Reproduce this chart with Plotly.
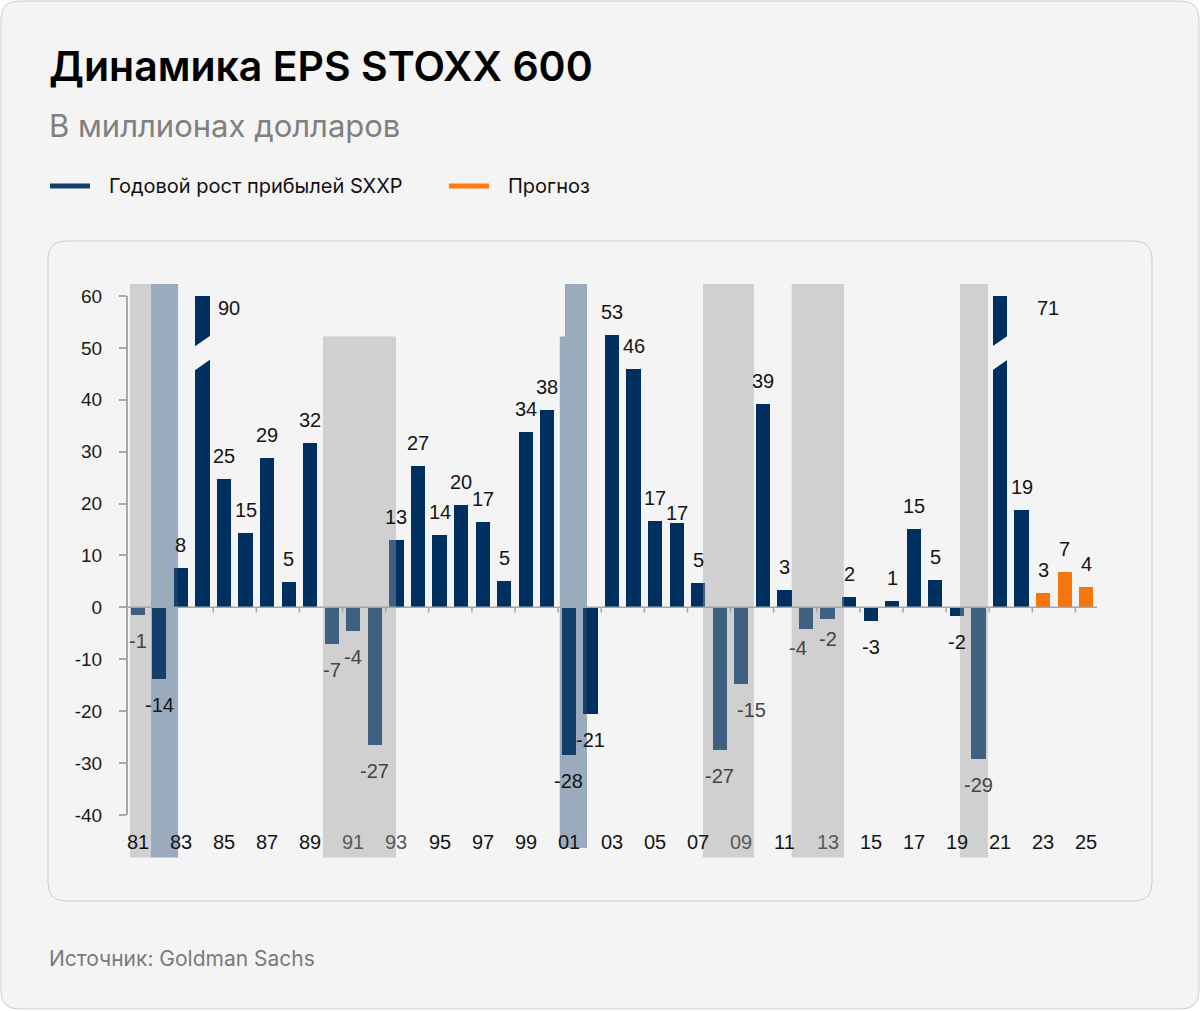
import plotly.graph_objects as go

# ---------------- data ----------------
years = list(range(1981, 2026))
eps_growth = [-1.5, -13.9, 7.5, 90, 24.7, 14.3, 28.8, 4.8, 31.7, -7.1,
              -4.6, -26.6, 13.0, 27.2, 13.9, 19.8, 16.4, 5.1, 33.7, 38.0,
              -28.4, -20.6, 52.4, 46.0, 16.6, 16.3, 4.7, -27.4, -14.7, 39.2,
              3.3, -4.1, -2.2, 2.0, -2.6, 1.2, 15.0, 5.2, -1.7, -29.3,
              71, 18.7, 2.8, 6.8, 3.9]
value_labels = ["-1", "-14", "8", "90", "25", "15", "29", "5", "32", "-7",
                "-4", "-27", "13", "27", "14", "20", "17", "5", "34", "38",
                "-28", "-21", "53", "46", "17", "17", "5", "-27", "-15", "39",
                "3", "-4", "-2", "2", "-3", "1", "15", "5", "-2", "-29",
                "71", "19", "3", "7", "4"]
forecast_years = [2023, 2024, 2025]
year_ticks = list(range(1981, 2026, 2))
year_tick_labels = ["81", "83", "85", "87", "89", "91", "93", "95", "97", "99",
                    "01", "03", "05", "07", "09", "11", "13", "15", "17", "19",
                    "21", "23", "25"]
y_ticks = [-40, -30, -20, -10, 0, 10, 20, 30, 40, 50, 60]
y_tick_labels = ["-40", "-30", "-20", "-10", "0", "10", "20", "30", "40", "50", "60"]
axis_cap = 60
# shaded periods: (start, end, top, bottom)
shade_light = [(1980.64, 1981.61, 62.3, -48.2), (1989.59, 1992.98, 52.2, -48.2),
               (2007.22, 2009.58, 62.3, -48.2), (2011.34, 2013.76, 62.3, -48.2),
               (2019.14, 2020.44, 62.3, -48.2)]
shade_blue = [(1981.61, 1982.87, 62.3, -48.2), (2000.58, 2000.82, 52.2, -46.4),
              (2000.82, 2001.84, 62.3, -46.4)]
muted_year_labels = ["91", "93", "09", "13"]

# ---------------- style ----------------
NAVY = "#00305f"
ORANGE = "#f7760c"
LIGHT = "#d0d0d0"
BLUEGREY = "#9aabbd"
AXIS = "#a6a6a6"
BG = "#f4f4f4"
NUMFONT = "Arial, Liberation Sans, sans-serif"
UIFONT = "Inter, Roboto, sans-serif"

W, H = 1200, 1011
L, R, T, B = 127, 103, 283, 152
PW, PH = W - L - R, H - T - B
BAR_W = 0.66


def px(x):
    return (x - L) / PW


def py(y):
    return (H - B - y) / PH


def rounded_path(x0, y0, x1, y1, r):
    pts = [
        ("M", [(x0 + r, y0)]), ("L", [(x1 - r, y0)]), ("Q", [(x1, y0), (x1, y0 + r)]),
        ("L", [(x1, y1 - r)]), ("Q", [(x1, y1), (x1 - r, y1)]), ("L", [(x0 + r, y1)]),
        ("Q", [(x0, y1), (x0, y1 - r)]), ("L", [(x0, y0 + r)]), ("Q", [(x0, y0), (x0 + r, y0)]),
    ]
    s = ""
    for cmd, ps in pts:
        s += cmd + " " + " ".join(f"{px(a):.5f},{py(b):.5f}" for a, b in ps) + " "
    return s + "Z"


plot_vals = [min(v, axis_cap) for v in eps_growth]
colors = [ORANGE if y in forecast_years else NAVY for y in years]

fig = go.Figure()
fig.add_trace(go.Bar(x=years, y=plot_vals, width=BAR_W, marker=dict(color=colors, line=dict(width=0)),
                     showlegend=False, hoverinfo="skip"))

shapes = []
# card and inner frame
shapes.append(dict(type="path", xref="paper", yref="paper", layer="below",
                   path=rounded_path(1, 1, 1199, 1009, 18), fillcolor=BG,
                   line=dict(color="#cfcfcf", width=1)))
shapes.append(dict(type="path", xref="paper", yref="paper", layer="below",
                   path=rounded_path(48, 241, 1152, 901, 18), fillcolor=BG,
                   line=dict(color="#cccccc", width=1)))
# shading below
for (a, b, top, bot) in shade_light:
    shapes.append(dict(type="rect", xref="x", yref="y", x0=a, x1=b, y0=bot, y1=top,
                       fillcolor=LIGHT, line=dict(width=0), layer="below"))
for (a, b, top, bot) in shade_blue:
    shapes.append(dict(type="rect", xref="x", yref="y", x0=a, x1=b, y0=bot, y1=top,
                       fillcolor=BLUEGREY, line=dict(width=0), layer="below"))
# break bands on capped bars
for yr, v in zip(years, eps_growth):
    if v > axis_cap:
        xl, xr = yr - BAR_W / 2 - 0.05, yr + BAR_W / 2 + 0.05
        shapes.append(dict(type="path", xref="x", yref="y", layer="above",
                           path=f"M {xl},45.6 L {xr},47.8 L {xr},52.4 L {xl},50.2 Z",
                           fillcolor=BG, line=dict(width=0)))
# overlays that mute bars inside shaded periods
for (a, b, top, bot) in shade_light:
    shapes.append(dict(type="rect", xref="x", yref="y", x0=a, x1=b, y0=bot, y1=top,
                       fillcolor=LIGHT, opacity=0.3, line=dict(width=0), layer="above"))
for (a, b, top, bot) in shade_blue:
    shapes.append(dict(type="rect", xref="x", yref="y", x0=a, x1=b, y0=bot, y1=top,
                       fillcolor=BLUEGREY, opacity=0.12, line=dict(width=0), layer="above"))
# zero line, x ticks, y axis line
shapes.append(dict(type="line", xref="paper", yref="y", x0=0, x1=1, y0=0, y1=0,
                   line=dict(color=AXIS, width=1.5), layer="above"))
for k in range(len(year_ticks) - 1):
    xt = year_ticks[k] + 1.5
    shapes.append(dict(type="line", xref="x", yref="y", x0=xt, x1=xt, y0=0, y1=-1.0,
                       line=dict(color=AXIS, width=1.5), layer="above"))
shapes.append(dict(type="line", xref="paper", yref="y", x0=0, x1=0, y0=min(y_ticks), y1=max(y_ticks),
                   line=dict(color=AXIS, width=2), layer="above"))
# legend markers
shapes.append(dict(type="line", xref="paper", yref="paper", x0=px(50), x1=px(90), y0=py(186), y1=py(186),
                   line=dict(color="#143d6b", width=5)))
shapes.append(dict(type="line", xref="paper", yref="paper", x0=px(449), x1=px(489), y0=py(186), y1=py(186),
                   line=dict(color="#ff7a12", width=5)))

ann = []
# value labels
special = {1984: (27, -12), 2021: (48, -12), 2006: (0, 10), 2009: (10, -26),
           2012: (-8, -19), 2013: (0, -20)}


def in_light(x):
    return any(a <= x <= b for (a, b, _, _) in shade_light)


for yr, v, lab in zip(years, eps_growth, value_labels):
    yv = min(v, axis_cap)
    dx, dy = special.get(yr, (0, 23 if v >= 0 else -26))
    ann.append(dict(x=yr, y=yv, xref="x", yref="y", text=lab, showarrow=False,
                    xanchor="center", yanchor="middle", xshift=dx, yshift=dy,
                    font=dict(family=NUMFONT, size=20, color="#444444" if in_light(yr) else "#141414")))
# year labels
for yr, lab in zip(year_ticks, year_tick_labels):
    ann.append(dict(x=yr, y=-45.2, xref="x", yref="y", text=lab, showarrow=False,
                    xanchor="center", yanchor="middle",
                    font=dict(family=NUMFONT, size=20,
                              color="#5a5a5a" if lab in muted_year_labels else "#141414")))
# titles, legend, source
ann.append(dict(x=px(47), y=py(66), xref="paper", yref="paper", xanchor="left", yanchor="middle",
                text="Динамика EPS STOXX 600", showarrow=False,
                font=dict(family=UIFONT, size=41, weight=600, color="#000000")))
ann.append(dict(x=px(47), y=py(125), xref="paper", yref="paper", xanchor="left", yanchor="middle",
                text="В миллионах долларов", showarrow=False,
                font=dict(family=UIFONT, size=31, color="#808080")))
ann.append(dict(x=px(107), y=py(186), xref="paper", yref="paper", xanchor="left", yanchor="middle",
                text="Годовой рост прибылей SXXP", showarrow=False,
                font=dict(family=UIFONT, size=20, color="#111111")))
ann.append(dict(x=px(506), y=py(186), xref="paper", yref="paper", xanchor="left", yanchor="middle",
                text="Прогноз", showarrow=False,
                font=dict(family=UIFONT, size=20, color="#111111")))
ann.append(dict(x=px(47), y=py(958), xref="paper", yref="paper", xanchor="left", yanchor="middle",
                text="Источник: Goldman Sachs", showarrow=False,
                font=dict(family=UIFONT, size=21, color="#7a7a7a")))

fig.update_layout(
    width=W, height=H,
    margin=dict(l=L, r=R, t=T, b=B, pad=0),
    paper_bgcolor="#ffffff", plot_bgcolor="rgba(0,0,0,0)",
    shapes=shapes, annotations=ann, showlegend=False, bargap=0,
    xaxis=dict(range=[1980.5, 2025.5], showgrid=False, zeroline=False, showline=False,
               showticklabels=False, ticks="", fixedrange=True),
    yaxis=dict(range=[-48.5, 62.5], showgrid=False, zeroline=False, showline=False,
               tickvals=y_ticks, ticktext=y_tick_labels, ticks="outside", ticklen=7,
               tickwidth=1.5, tickcolor=AXIS, ticklabelstandoff=13,
               tickfont=dict(family=NUMFONT, size=19, color="#1a1a1a"), fixedrange=True),
)

fig.write_html("out.html")
